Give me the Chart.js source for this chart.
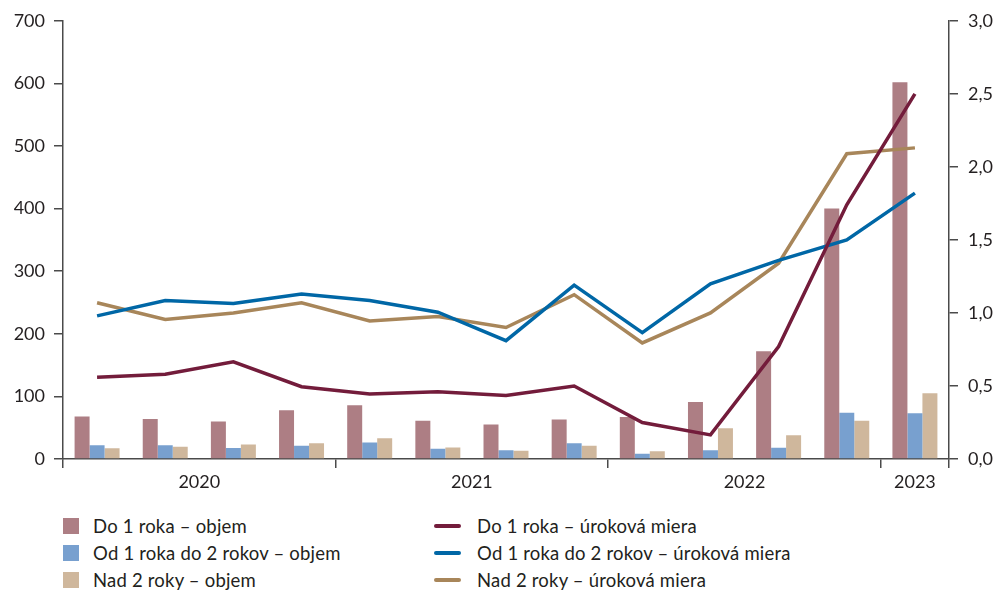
<!DOCTYPE html>
<html lang="sk">
<head>
<meta charset="utf-8">
<title>Objem a úroková miera</title>
<script src="https://cdn.jsdelivr.net/npm/chart.js@4.4.0/dist/chart.umd.min.js"></script>
<style>
  html, body { margin: 0; padding: 0; background: #fff; }
  #wrap { position: relative; width: 997px; height: 590px; font-family: Lato, "Open Sans", sans-serif; color: #231f20; }
  #chartBox { position: absolute; left: 0; top: 0; width: 997px; height: 500px; }
  .item { position: absolute; height: 27px; display: flex; align-items: center; font-size: 18.5px; letter-spacing: 0.2px; white-space: nowrap; }
  .box { width: 16px; height: 16px; margin-right: 14px; }
  .line { width: 27px; height: 4px; border-radius: 2px; margin-right: 16px; }
</style>
</head>
<body>
<div id="wrap">
  <div id="chartBox"><canvas id="myChart"></canvas></div>
  <div id="legend"></div>
</div>
<script>
// quarters 2020 Q1 .. 2023 Q1
const categories = ['2020 Q1', '2020 Q2', '2020 Q3', '2020 Q4',
                    '2021 Q1', '2021 Q2', '2021 Q3', '2021 Q4',
                    '2022 Q1', '2022 Q2', '2022 Q3', '2022 Q4',
                    '2023 Q1'];

// volumes (left axis)
const volShort = [68, 64, 60, 78, 86, 61, 55, 63, 67, 91, 172, 400, 602];
const volMid   = [22, 22, 17.5, 21, 26.5, 16.5, 14, 25, 8.5, 14, 18, 74, 73];
const volLong  = [17, 19.5, 23, 25, 33, 18.5, 13, 21, 12.5, 49, 38, 61, 105];

// interest rates in % (right axis)
const rateShort = [0.56, 0.58, 0.665, 0.495, 0.445, 0.46, 0.435, 0.5, 0.25, 0.165, 0.77, 1.74, 2.5];
const rateMid   = [0.98, 1.085, 1.065, 1.13, 1.085, 1.005, 0.81, 1.19, 0.865, 1.2, 1.36, 1.5, 1.82];
const rateLong  = [1.07, 0.955, 1.0, 1.07, 0.945, 0.975, 0.9, 1.125, 0.795, 1.0, 1.34, 2.09, 2.13];

const years = categories.map(c => c.split(' ')[0]);

const textColor = '#231f20';
const axisColor = '#4a4a4a';
const font = { family: 'Lato, "Open Sans", sans-serif', size: 18 };

// year captions centred under their quarters
const yearLabels = {
  id: 'yearLabels',
  afterDraw(chart) {
    const x = chart.scales.x;
    const half = (x.getPixelForValue(1) - x.getPixelForValue(0)) / 2;
    const c = chart.ctx;
    c.save();
    c.font = font.size + 'px ' + font.family;
    c.fillStyle = textColor;
    c.textAlign = 'center';
    c.textBaseline = 'middle';
    let start = 0;
    for (let i = 1; i <= years.length; i++) {
      if (i === years.length || years[i] !== years[start]) {
        const left = x.getPixelForValue(start) - half;
        const right = x.getPixelForValue(i - 1) + half;
        c.fillText(years[start], (left + right) / 2, chart.chartArea.bottom + 23);
        start = i;
      }
    }
    c.restore();
  }
};

const ctx = document.getElementById('myChart');

const chart = new Chart(ctx, {
  data: {
    labels: categories,
    datasets: [
      { type: 'line', label: 'Do 1 roka – úroková miera', data: rateShort, yAxisID: 'y1',
        borderColor: '#731c3b', backgroundColor: '#731c3b', borderWidth: 3.5, pointRadius: 0, order: 0 },
      { type: 'line', label: 'Od 1 roka do 2 rokov – úroková miera', data: rateMid, yAxisID: 'y1',
        borderColor: '#0067a6', backgroundColor: '#0067a6', borderWidth: 3.5, pointRadius: 0, order: 0 },
      { type: 'line', label: 'Nad 2 roky – úroková miera', data: rateLong, yAxisID: 'y1',
        borderColor: '#a8865a', backgroundColor: '#a8865a', borderWidth: 3.5, pointRadius: 0, order: 0 },
      { type: 'bar', label: 'Do 1 roka – objem', data: volShort, yAxisID: 'y',
        backgroundColor: '#ad7e84', order: 1 },
      { type: 'bar', label: 'Od 1 roka do 2 rokov – objem', data: volMid, yAxisID: 'y',
        backgroundColor: '#78a0cf', order: 1 },
      { type: 'bar', label: 'Nad 2 roky – objem', data: volLong, yAxisID: 'y',
        backgroundColor: '#cfb79c', order: 1 }
    ]
  },
  options: {
    responsive: true,
    maintainAspectRatio: false,
    animation: false,
    layout: { padding: { top: 20, left: 0, right: 0, bottom: 0 } },
    datasets: { bar: { barPercentage: 1, categoryPercentage: 0.66 } },
    plugins: { legend: { display: false }, tooltip: { enabled: false } },
    scales: {
      x: {
        offset: true,
        ticks: { display: false },
        border: { color: axisColor, width: 1.5 },
        grid: {
          offset: true,
          drawOnChartArea: false,
          tickLength: 9,
          lineWidth: 1.5,
          color: (c) => (c.index === undefined || c.index === 0 || years[c.index] !== years[c.index - 1]) ? axisColor : 'rgba(0,0,0,0)'
        },
        afterFit: (s) => { s.height = 41; }
      },
      y: {
        position: 'left',
        min: 0, max: 700,
        ticks: { stepSize: 100, color: textColor, font: font, padding: 9 },
        border: { color: axisColor, width: 1.5 },
        grid: { drawOnChartArea: false, tickLength: 9, color: axisColor, lineWidth: 1.5 },
        afterFit: (s) => { s.width = 63; }
      },
      y1: {
        position: 'right',
        min: 0, max: 3,
        ticks: { stepSize: 0.5, color: textColor, font: font, padding: 10,
                 callback: (v) => v.toFixed(1).replace('.', ',') },
        border: { color: axisColor, width: 1.5 },
        grid: { drawOnChartArea: false, tickLength: 9, color: axisColor, lineWidth: 1.5 },
        afterFit: (s) => { s.width = 48; }
      }
    }
  },
  plugins: [yearLabels]
});

// two-column legend: volumes left, rates right
const legend = document.getElementById('legend');
const bars = chart.data.datasets.filter(d => d.type === 'bar');
const lines = chart.data.datasets.filter(d => d.type === 'line');
[[bars, 63, 'box'], [lines, 434, 'line']].forEach(([list, left, cls]) => {
  list.forEach((d, i) => {
    const el = document.createElement('div');
    el.className = 'item';
    el.style.left = left + 'px';
    el.style.top = (512 + i * 27) + 'px';
    const sw = document.createElement('span');
    sw.className = cls;
    sw.style.background = d.backgroundColor;
    el.appendChild(sw);
    el.appendChild(document.createTextNode(d.label));
    legend.appendChild(el);
  });
});
</script>
</body>
</html>
